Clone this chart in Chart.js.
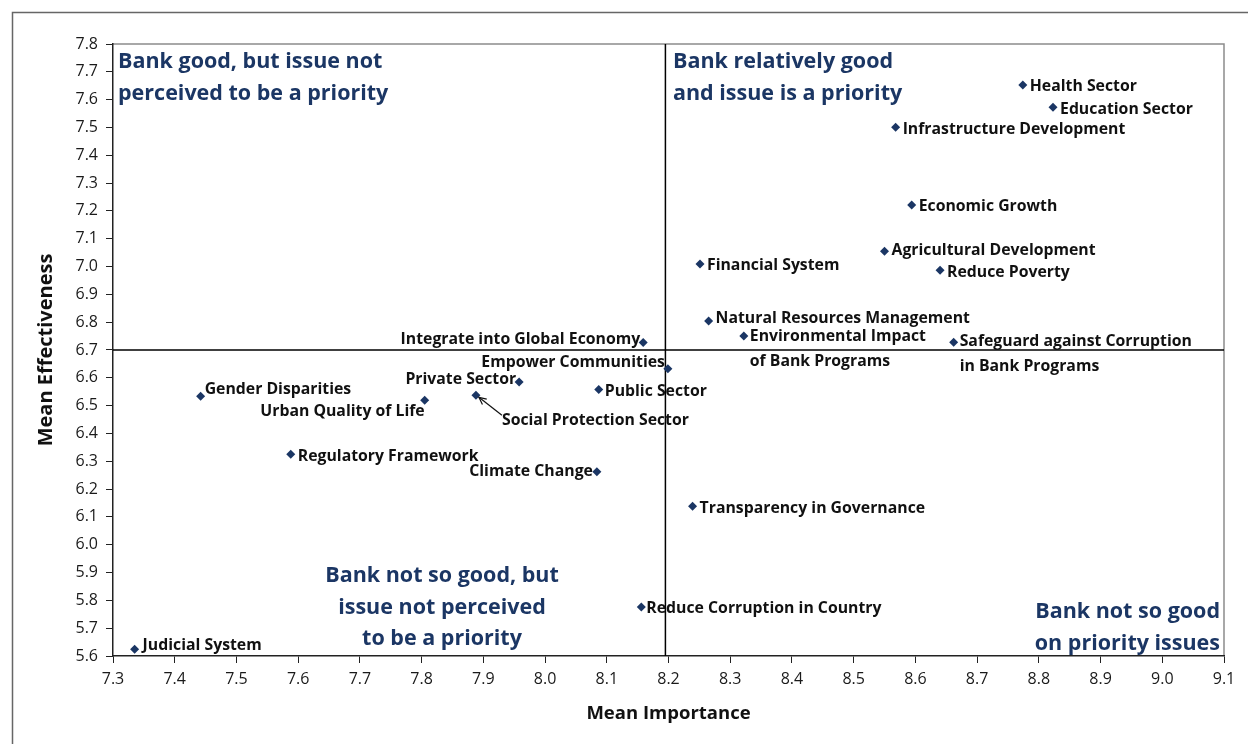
<!DOCTYPE html>
<html>
<head>
<meta charset="utf-8">
<script src="https://cdn.jsdelivr.net/npm/chart.js@4.4.1/dist/chart.umd.min.js"></script>
<style>
  html, body { margin: 0; padding: 0; background: #fff; }
  #wrap { width: 1248px; height: 744px; position: relative; }
</style>
</head>
<body>
<div id="wrap"><canvas id="chart" width="1248" height="744"></canvas></div>
<script>
// Issues rated by respondents
const issues = [
    'Health Sector', 'Education Sector', 'Infrastructure Development', 'Economic Growth',
    'Agricultural Development', 'Reduce Poverty', 'Financial System', 'Natural Resources Management',
    'Environmental Impact|of Bank Programs', 'Safeguard against Corruption|in Bank Programs',
    'Integrate into Global Economy', 'Empower Communities', 'Private Sector', 'Public Sector',
    'Social Protection Sector', 'Urban Quality of Life', 'Gender Disparities', 'Regulatory Framework',
    'Climate Change', 'Transparency in Governance', 'Reduce Corruption in Country', 'Judicial System'
];
const importance = [
    8.774, 8.823, 8.568, 8.594,
    8.550, 8.640, 8.251, 8.265,
    8.322, 8.662,
    8.159, 8.199, 7.958, 8.087,
    7.888, 7.805, 7.442, 7.588,
    8.084, 8.239, 8.156, 7.335
];
const effectiveness = [
    7.653, 7.573, 7.501, 7.221,
    7.055, 6.987, 7.009, 6.804,
    6.750, 6.728,
    6.727, 6.633, 6.585, 6.558,
    6.537, 6.519, 6.534, 6.325,
    6.262, 6.138, 5.776, 5.624
];
// quadrant dividers
const importanceDivider = 8.195;
const effectivenessDivider = 6.7;
const xTicks = [7.3, 9.1];
const yTicks = [5.6, 7.8];

// label placement: [dx, dy, align] relative to each marker
const labelPlacement = [
    [7, 2, 'left'], [7, 2, 'left'], [7, 2, 'left'], [7, 1, 'left'],
    [7, -1, 'left'], [7, 2, 'left'], [7, 1, 'left'], [7, -3, 'left'],
    [6, 0, 'left'], [6, -1, 'left'],
    [-3, -3, 'right'], [-3, -6, 'right'], [-3, -2, 'right'], [6, 2, 'left'],
    [26, 25, 'left'], [0, 11, 'right'], [4, -7, 'left'], [7, 2, 'left'],
    [-4, 0, 'right'], [7, 2, 'left'], [5, 1, 'left'], [8, -4, 'left']
];

const navy = '#1B3664';
const labelFont = 'bold 15.8px "Open Sans"';
const quadFont = 'bold 21.5px "Open Sans"';

const quadrantNotes = [
    { lines: ['Bank good, but issue not', 'perceived to be a priority'], x: 118, y: 62, align: 'left' },
    { lines: ['Bank relatively good', 'and issue is a priority'], x: 673, y: 62, align: 'left' },
    { lines: ['Bank not so good, but', 'issue not perceived', 'to be a priority'], x: 442, y: 576, align: 'center' },
    { lines: ['Bank not so good', 'on priority issues'], x: 1220, y: 612, align: 'right' }
];

const points = issues.map((n, i) => ({ x: importance[i], y: effectiveness[i] }));

// Frame, plot border and quadrant notes
const framePlugin = {
    id: 'frame',
    beforeDraw(chart) {
        const ctx = chart.ctx;
        const a = chart.chartArea;
        ctx.save();
        ctx.strokeStyle = '#666';
        ctx.lineWidth = 1.5;
        ctx.beginPath();
        ctx.moveTo(12.5, 744);
        ctx.lineTo(12.5, 12.5);
        ctx.lineTo(1248, 12.5);
        ctx.stroke();
        ctx.strokeStyle = '#8c8c8c';
        ctx.lineWidth = 1.5;
        ctx.beginPath();
        ctx.moveTo(a.left, a.top);
        ctx.lineTo(a.right, a.top);
        ctx.lineTo(a.right, a.bottom);
        ctx.stroke();
        ctx.restore();
    },
    afterDraw(chart) {
        const ctx = chart.ctx;
        ctx.save();
        ctx.fillStyle = navy;
        ctx.font = quadFont;
        ctx.textBaseline = 'middle';
        quadrantNotes.forEach(q => {
            ctx.textAlign = q.align;
            q.lines.forEach((l, k) => ctx.fillText(l, q.x, q.y + k * 31.5));
        });
        ctx.restore();
    }
};

// Marker labels
const labelPlugin = {
    id: 'pointLabels',
    afterDatasetsDraw(chart) {
        const ctx = chart.ctx;
        const meta = chart.getDatasetMeta(0);
        ctx.save();
        ctx.font = labelFont;
        ctx.fillStyle = '#111';
        ctx.textBaseline = 'middle';
        meta.data.forEach((el, i) => {
            const [dx, dy, align] = labelPlacement[i];
            ctx.textAlign = align;
            const parts = issues[i].split('|');
            parts.forEach((p, k) => ctx.fillText(p, el.x + dx, el.y + dy + k * 25.5));
            if (issues[i] === 'Social Protection Sector') {
                // arrow pointing back to the marker
                const sx = el.x + 26, sy = el.y + 20;
                const ex = el.x + 3, ey = el.y + 2;
                ctx.strokeStyle = '#111';
                ctx.lineWidth = 1.2;
                ctx.beginPath();
                ctx.moveTo(sx, sy);
                ctx.lineTo(ex, ey);
                ctx.stroke();
                const ang = Math.atan2(ey - sy, ex - sx);
                ctx.beginPath();
                ctx.moveTo(ex - 8 * Math.cos(ang - 0.45), ey - 8 * Math.sin(ang - 0.45));
                ctx.lineTo(ex, ey);
                ctx.lineTo(ex - 8 * Math.cos(ang + 0.45), ey - 8 * Math.sin(ang + 0.45));
                ctx.stroke();
            }
        });
        ctx.restore();
    }
};

const tickFont = { family: '"Open Sans"', size: 16 };

new Chart(document.getElementById('chart'), {
    type: 'scatter',
    data: {
        datasets: [
            {
                data: points,
                pointStyle: 'rectRot',
                pointRadius: 4.5,
                backgroundColor: navy,
                borderColor: navy,
                borderWidth: 0
            },
            {
                type: 'line',
                data: [{ x: importanceDivider, y: yTicks[0] }, { x: importanceDivider, y: yTicks[1] }],
                borderColor: '#000',
                borderWidth: 1.5,
                pointRadius: 0
            },
            {
                type: 'line',
                data: [{ x: xTicks[0], y: effectivenessDivider }, { x: xTicks[1], y: effectivenessDivider }],
                borderColor: '#000',
                borderWidth: 1.5,
                pointRadius: 0
            }
        ]
    },
    options: {
        responsive: false,
        animation: false,
        layout: { padding: { top: 44, right: 24, left: 0, bottom: 0 } },
        plugins: {
            legend: { display: false },
            tooltip: { enabled: false }
        },
        scales: {
            x: {
                type: 'linear',
                min: xTicks[0],
                max: xTicks[1],
                afterFit(scale) { scale.height = 88; },
                border: { color: '#222', width: 1.5 },
                grid: { drawOnChartArea: false, drawTicks: true, tickLength: 7, color: '#222' },
                ticks: {
                    stepSize: 0.1,
                    padding: 7,
                    color: '#1a1a1a',
                    font: tickFont,
                    maxRotation: 0,
                    callback: v => Number(v).toFixed(1)
                },
                title: {
                    display: true,
                    text: 'Mean Importance',
                    color: '#111',
                    font: { family: '"Open Sans"', size: 18.5, weight: 'bold' },
                    padding: { top: 0, bottom: 19 }
                }
            },
            y: {
                type: 'linear',
                min: yTicks[0],
                max: yTicks[1],
                afterFit(scale) { scale.width = 113; },
                border: { color: '#222', width: 1.5 },
                grid: { drawOnChartArea: false, drawTicks: true, tickLength: 7, color: '#222' },
                ticks: {
                    stepSize: 0.1,
                    padding: 8,
                    color: '#1a1a1a',
                    font: tickFont,
                    callback: v => Number(v).toFixed(1)
                },
                title: {
                    display: true,
                    text: 'Mean Effectiveness',
                    color: '#111',
                    font: { family: '"Open Sans"', size: 20, weight: 'bold' },
                    padding: { top: 34, bottom: 0 }
                }
            }
        }
    },
    plugins: [framePlugin, labelPlugin]
});
</script>
</body>
</html>
